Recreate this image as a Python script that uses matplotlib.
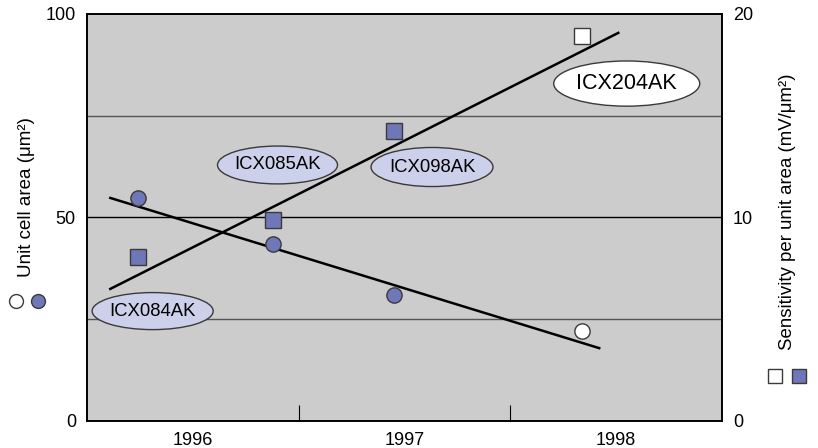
import matplotlib
matplotlib.use('Agg')
import matplotlib.pyplot as plt
from matplotlib.patches import Ellipse
from matplotlib.lines import Line2D

plt.rcParams['font.family'] = ['Liberation Sans', 'DejaVu Sans']

# data
years = [1996, 1997, 1998]

# unit cell area (left axis, um^2)
area_x = [1995.74, 1996.38, 1996.95, 1997.84]
area_y = [54.8, 43.5, 31.0, 22.1]
area_filled = [True, True, True, False]

# sensitivity per unit area (right axis, mV/um^2)
sens_x = [1995.74, 1996.38, 1996.95, 1997.84]
sens_y = [8.06, 9.88, 14.25, 18.9]
sens_filled = [True, True, True, False]

# trend lines (end points)
area_trend_x = [1995.61, 1997.92]
area_trend_y = [54.8, 17.9]
sens_trend_x = [1995.61, 1998.01]
sens_trend_y = [6.49, 19.07]

# device labels (center x, center y on left axis, width, height)
labels = ['ICX084AK', 'ICX085AK', 'ICX098AK', 'ICX204AK']
lab_x = [1995.81, 1996.40, 1997.13, 1998.05]
lab_y = [27.0, 62.9, 62.4, 82.9]
lab_w = [0.572, 0.567, 0.576, 0.69]
lab_h = [9.1, 9.3, 9.6, 11.1]
lab_fill = ['#cdd0ea', '#cdd0ea', '#cdd0ea', 'white']
lab_size = [13.3, 13.3, 13.3, 15.5]

blue = '#6e78b8'
edge = '#3a3a3a'

fig = plt.figure(figsize=(8.18, 4.48), dpi=100)
ax = fig.add_axes([0.1064, 0.0603, 0.7762, 0.9085])
ax2 = ax.twinx()

ax.set_facecolor('#cccccc')
ax.set_xlim(1995.5, 1998.5)
ax.set_ylim(0, 100)
ax2.set_ylim(0, 20)

for g, c in zip([25, 50, 75], ['#555555', 'black', '#555555']):
    ax.axhline(g, color=c, lw=1, zorder=1)

ax.set_xticks(years)
ax.set_xticks([1996.5, 1997.5], minor=True)
ax.tick_params(axis='x', which='major', length=0, pad=8, labelsize=13)
ax.tick_params(axis='x', which='minor', direction='in', length=11.5, width=0.8)
ax.set_yticks([0, 50, 100])
ax.tick_params(axis='y', length=0, pad=8, labelsize=13)
ax2.set_yticks([0, 10, 20])
ax2.tick_params(axis='y', length=0, pad=8, labelsize=13)

for a in (ax, ax2):
    for s in a.spines.values():
        s.set_linewidth(1.2)

ax.plot(area_trend_x, area_trend_y, color='black', lw=1.8, zorder=3)
ax2.plot(sens_trend_x, sens_trend_y, color='black', lw=1.8, zorder=3)

for x, y, f in zip(area_x, area_y, area_filled):
    ax.plot(x, y, 'o', ms=11, mfc=blue if f else 'white', mec=edge, mew=1, zorder=4)
for x, y, f in zip(sens_x, sens_y, sens_filled):
    ax2.plot(x, y, 's', ms=11, mfc=blue if f else 'white', mec=edge, mew=1, zorder=4)

for t, x, y, w, h, fc, fs in zip(labels, lab_x, lab_y, lab_w, lab_h, lab_fill, lab_size):
    ax2.add_patch(Ellipse((x, y / 5), w, h / 5, facecolor=fc, edgecolor=edge, lw=1, zorder=5))
    ax2.text(x, y / 5, t, ha='center', va='center', fontsize=fs, zorder=6)

fig.text(27 / 818, 1 - 197 / 448, 'Unit cell area (μm²)', rotation=90,
         ha='center', va='center', fontsize=13.5)
fig.text(787 / 818, 1 - 212 / 448, 'Sensitivity per unit area (mV/μm²)', rotation=90,
         ha='center', va='center', fontsize=13.4)

# marker keys beside the axis labels
fig.add_artist(Line2D([16 / 818], [1 - 301 / 448], marker='o', ms=10, mfc='white', mec=edge, mew=1))
fig.add_artist(Line2D([38 / 818], [1 - 301 / 448], marker='o', ms=10, mfc=blue, mec=edge, mew=1))
fig.add_artist(Line2D([775 / 818], [1 - 376 / 448], marker='s', ms=10, mfc='white', mec=edge, mew=1))
fig.add_artist(Line2D([799 / 818], [1 - 376 / 448], marker='s', ms=10, mfc=blue, mec=edge, mew=1))

fig.savefig('out.png', dpi=100)
